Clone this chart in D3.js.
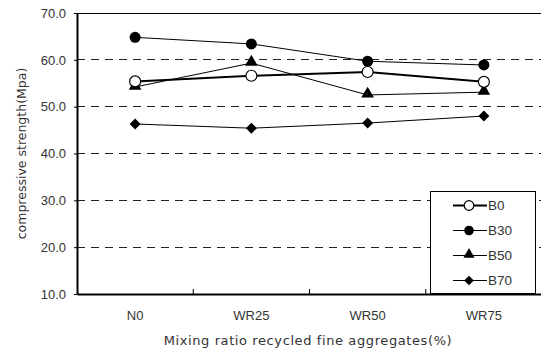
<!DOCTYPE html>
<html>
<head>
<meta charset="utf-8">
<script src="https://cdn.jsdelivr.net/npm/d3@7"></script>
<style>
  body { margin: 0; background: #fff; }
  svg { display: block; font-family: "DejaVu Sans", "Noto Sans", sans-serif; }
</style>
</head>
<body>
<div id="chart"></div>
<script>
// data
const categories = ["N0", "WR25", "WR50", "WR75"];
const seriesNames = ["B0", "B30", "B50", "B70"];
const b0 = [55.4, 56.6, 57.4, 55.3];
const b30 = [64.8, 63.4, 59.7, 58.9];
const b50 = [54.2, 59.3, 52.5, 53.1];
const b70 = [46.3, 45.4, 46.5, 48.0];
const yTicks = [10, 20, 30, 40, 50, 60, 70];

const series = [
  { name: seriesNames[0], values: b0, marker: "circleOpen", width: 2 },
  { name: seriesNames[1], values: b30, marker: "circle", width: 1 },
  { name: seriesNames[2], values: b50, marker: "triangle", width: 1 },
  { name: seriesNames[3], values: b70, marker: "diamond", width: 1 }
];

const width = 541, height = 354;
const margin = { top: 13, right: -1, bottom: 60, left: 77 };

const svg = d3.select("#chart")
  .append("svg")
  .attr("width", width)
  .attr("height", height);

const x = d3.scaleBand()
  .domain(categories)
  .range([margin.left, width - margin.right]);

const y = d3.scaleLinear()
  .domain([10, 70])
  .range([height - margin.bottom, margin.top]);

// dashed gridlines
svg.append("g")
  .selectAll("line")
  .data(yTicks.filter(d => d > 10 && d < 70))
  .enter().append("line")
  .attr("x1", margin.left)
  .attr("x2", width)
  .attr("y1", d => y(d))
  .attr("y2", d => y(d))
  .attr("stroke", "#222")
  .attr("stroke-width", 1)
  .attr("stroke-dasharray", "8,6")
  .attr("shape-rendering", "crispEdges");

// top border
svg.append("line")
  .attr("x1", margin.left).attr("x2", width)
  .attr("y1", y(70)).attr("y2", y(70))
  .attr("stroke", "#000")
  .attr("shape-rendering", "crispEdges");

// y axis
const yAxis = svg.append("g")
  .attr("transform", `translate(${margin.left},0)`)
  .call(d3.axisLeft(y).tickValues(yTicks).tickFormat(d3.format(".1f")).tickSize(3).tickSizeOuter(0));
yAxis.select(".domain").attr("stroke-width", 2);
yAxis.selectAll("text")
  .attr("font-size", 13)
  .attr("fill", "#333")
  .attr("x", -11)
  .attr("font-family", "'Liberation Sans', Arial, sans-serif");

// x axis with ticks between categories, pointing upward
const xAxis = svg.append("g")
  .attr("transform", `translate(0,${y(10)})`)
  .call(d3.axisBottom(x).tickSize(0).tickSizeOuter(0));
xAxis.select(".domain").attr("stroke-width", 2);
xAxis.selectAll("text")
  .attr("font-size", 13)
  .attr("fill", "#333")
  .attr("dy", "1.8em")
  .attr("font-family", "'Liberation Sans', Arial, sans-serif");
xAxis.selectAll(".sep")
  .data(categories.slice(1))
  .enter().append("line")
  .attr("class", "sep")
  .attr("x1", d => x(d))
  .attr("x2", d => x(d))
  .attr("y1", 0)
  .attr("y2", -5)
  .attr("stroke", "#000");

// axis titles
svg.append("text")
  .attr("transform", `translate(26,${(y(10) + y(70)) / 2}) rotate(-90)`)
  .attr("text-anchor", "middle")
  .attr("font-size", 12.5)
  .attr("fill", "#333")
  .text("compressive strength(Mpa)");

svg.append("text")
  .attr("x", 308)
  .attr("y", 345)
  .attr("text-anchor", "middle")
  .attr("font-size", 13)
  .attr("letter-spacing", 0.6)
  .attr("fill", "#333")
  .text("Mixing ratio recycled fine aggregates(%)");

function drawMarker(g, type, r) {
  if (type === "circleOpen") {
    g.append("circle").attr("r", r).attr("fill", "#fff").attr("stroke", "#000").attr("stroke-width", 1.2);
  } else if (type === "circle") {
    g.append("circle").attr("r", r).attr("fill", "#000");
  } else if (type === "triangle") {
    g.append("path").attr("d", d3.symbol(d3.symbolTriangle, r * r * 2.3)()).attr("fill", "#000").attr("transform", "translate(0,-1)");
  } else {
    g.append("path").attr("d", `M0,${-r}L${r},0L0,${r}L${-r},0Z`).attr("fill", "#000");
  }
}

const line = d3.line()
  .x((d, i) => x(categories[i]) + x.bandwidth() / 2)
  .y(d => y(d));

// draw back to front so B0 sits on top
const order = [3, 2, 1, 0];
order.forEach(k => {
  const s = series[k];
  const g = svg.append("g");
  g.append("path")
    .datum(s.values)
    .attr("d", line)
    .attr("fill", "none")
    .attr("stroke", "#000")
    .attr("stroke-width", s.width);
  g.selectAll("g.pt")
    .data(s.values)
    .enter().append("g")
    .attr("class", "pt")
    .attr("transform", (d, i) => `translate(${x(categories[i]) + x.bandwidth() / 2},${y(d)})`)
    .each(function() { drawMarker(d3.select(this), s.marker, 5.5); });
});

// legend
const legend = svg.append("g").attr("transform", "translate(430,191)");
legend.append("rect")
  .attr("x", 0).attr("y", 0)
  .attr("width", 105).attr("height", 102)
  .attr("fill", "#fff")
  .attr("stroke", "#000")
  .attr("shape-rendering", "crispEdges");
series.forEach((s, i) => {
  const row = legend.append("g").attr("transform", `translate(0,${14.5 + i * 25})`);
  row.append("line")
    .attr("x1", 23).attr("x2", 57)
    .attr("stroke", "#000")
    .attr("stroke-width", s.width);
  drawMarker(row.append("g").attr("transform", "translate(39,0)"), s.marker, 4.8);
  row.append("text")
    .attr("x", 58)
    .attr("dy", "0.36em")
    .attr("font-size", 13.5)
    .attr("fill", "#333")
    .attr("font-family", "'Liberation Sans', Arial, sans-serif")
    .text(s.name);
});
</script>
</body>
</html>
